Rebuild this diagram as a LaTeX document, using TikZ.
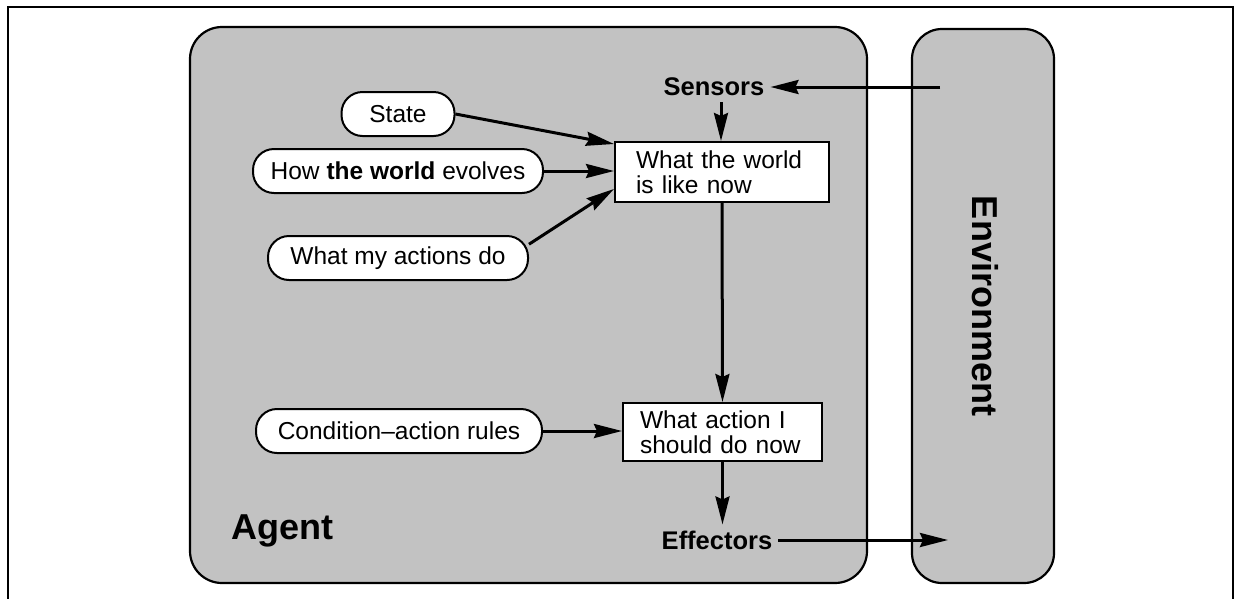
\documentclass[tikz,border=0pt]{standalone}
\usepackage{fontspec}
\setmainfont{Liberation Sans}
\usetikzlibrary{arrows.meta,calc}
\tikzset{
  shade/.style={draw=black, line width=2.2pt, fill=black!24},
  pill/.style={draw=black, line width=2pt, fill=white, rounded corners=21pt,
    minimum height=44pt, inner sep=0pt, font=\fontsize{24.5}{26}\selectfont},
  statebox/.style={draw=black, line width=2pt, fill=white, inner ysep=0pt,
    font=\fontsize{24.5}{25.5}\selectfont, align=left, anchor=center},
  lbl/.style={font=\bfseries\fontsize{25.5}{27}\selectfont, inner sep=6pt},
  biglbl/.style={font=\bfseries\fontsize{36}{38}\selectfont, inner sep=0pt},
  conn/.style={line width=3pt, -{Stealth[length=28pt,width=14pt,inset=3pt]}},
}
\begin{document}
\begin{tikzpicture}[x=1pt,y=-1pt]
\useasboundingbox (0,0) rectangle (1237,598);
% outer frame
\draw[line width=1.4pt] (8,600) -- (8,7) -- (1233,7) -- (1233,600);
% agent and environment
\draw[shade, rounded corners=32pt] (190,27) rectangle (867,583);
\draw[shade, rounded corners=30pt] (912,29) rectangle (1054,583);
% labels
\node[biglbl, anchor=base west] (agent) at (231,539) {Agent};
\node[biglbl, rotate=-90] (env) at (985,306) {Environment};
\node[lbl] (sensors) at (714,87) {Sensors};
\node[lbl] (effectors) at (717,540) {Effectors};
% pills
\node[pill, minimum width=113pt] (state) at (398,114) {State};
\node[pill, minimum width=290pt] (how) at (398,171) {How \textbf{the world} evolves};
\node[pill, minimum width=260pt] (mine) at (398,258) {What my actions do};
\node[pill, minimum width=286pt] (cond) at (399,431) {Condition\textendash action rules};
% state boxes
\node[statebox, minimum width=214pt, minimum height=60pt, inner xsep=21pt, text width=172pt] (world) at (722,172) {What the world\\is like now};
\node[statebox, minimum width=199pt, minimum height=58pt, inner xsep=17pt, text width=165pt] (action) at (722.5,432) {What action I\\should do now};
% free ends
\coordinate (envin) at (940,87);
\coordinate (envout) at (948,540);
% connectors
\draw[conn] (envin) -- (sensors.east);
\draw[conn] (sensors.south -| 721,0) -- (world.north -| 721,0);
\draw[conn] (state.east) -- ($(world.north west)+(0,3)$);
\draw[conn] (how.east) -- (world.west |- how.east);
\draw[conn] (mine.6) -- ($(world.south west)+(0,-14)$);
\draw[conn] (world.south) -- (action.north);
\draw[conn] (cond.east) -- (action.west |- cond.east);
\draw[conn] (action.south) -- (action.south |- effectors.north);
\draw[conn] (effectors.east) -- (envout);
\end{tikzpicture}
\end{document}
